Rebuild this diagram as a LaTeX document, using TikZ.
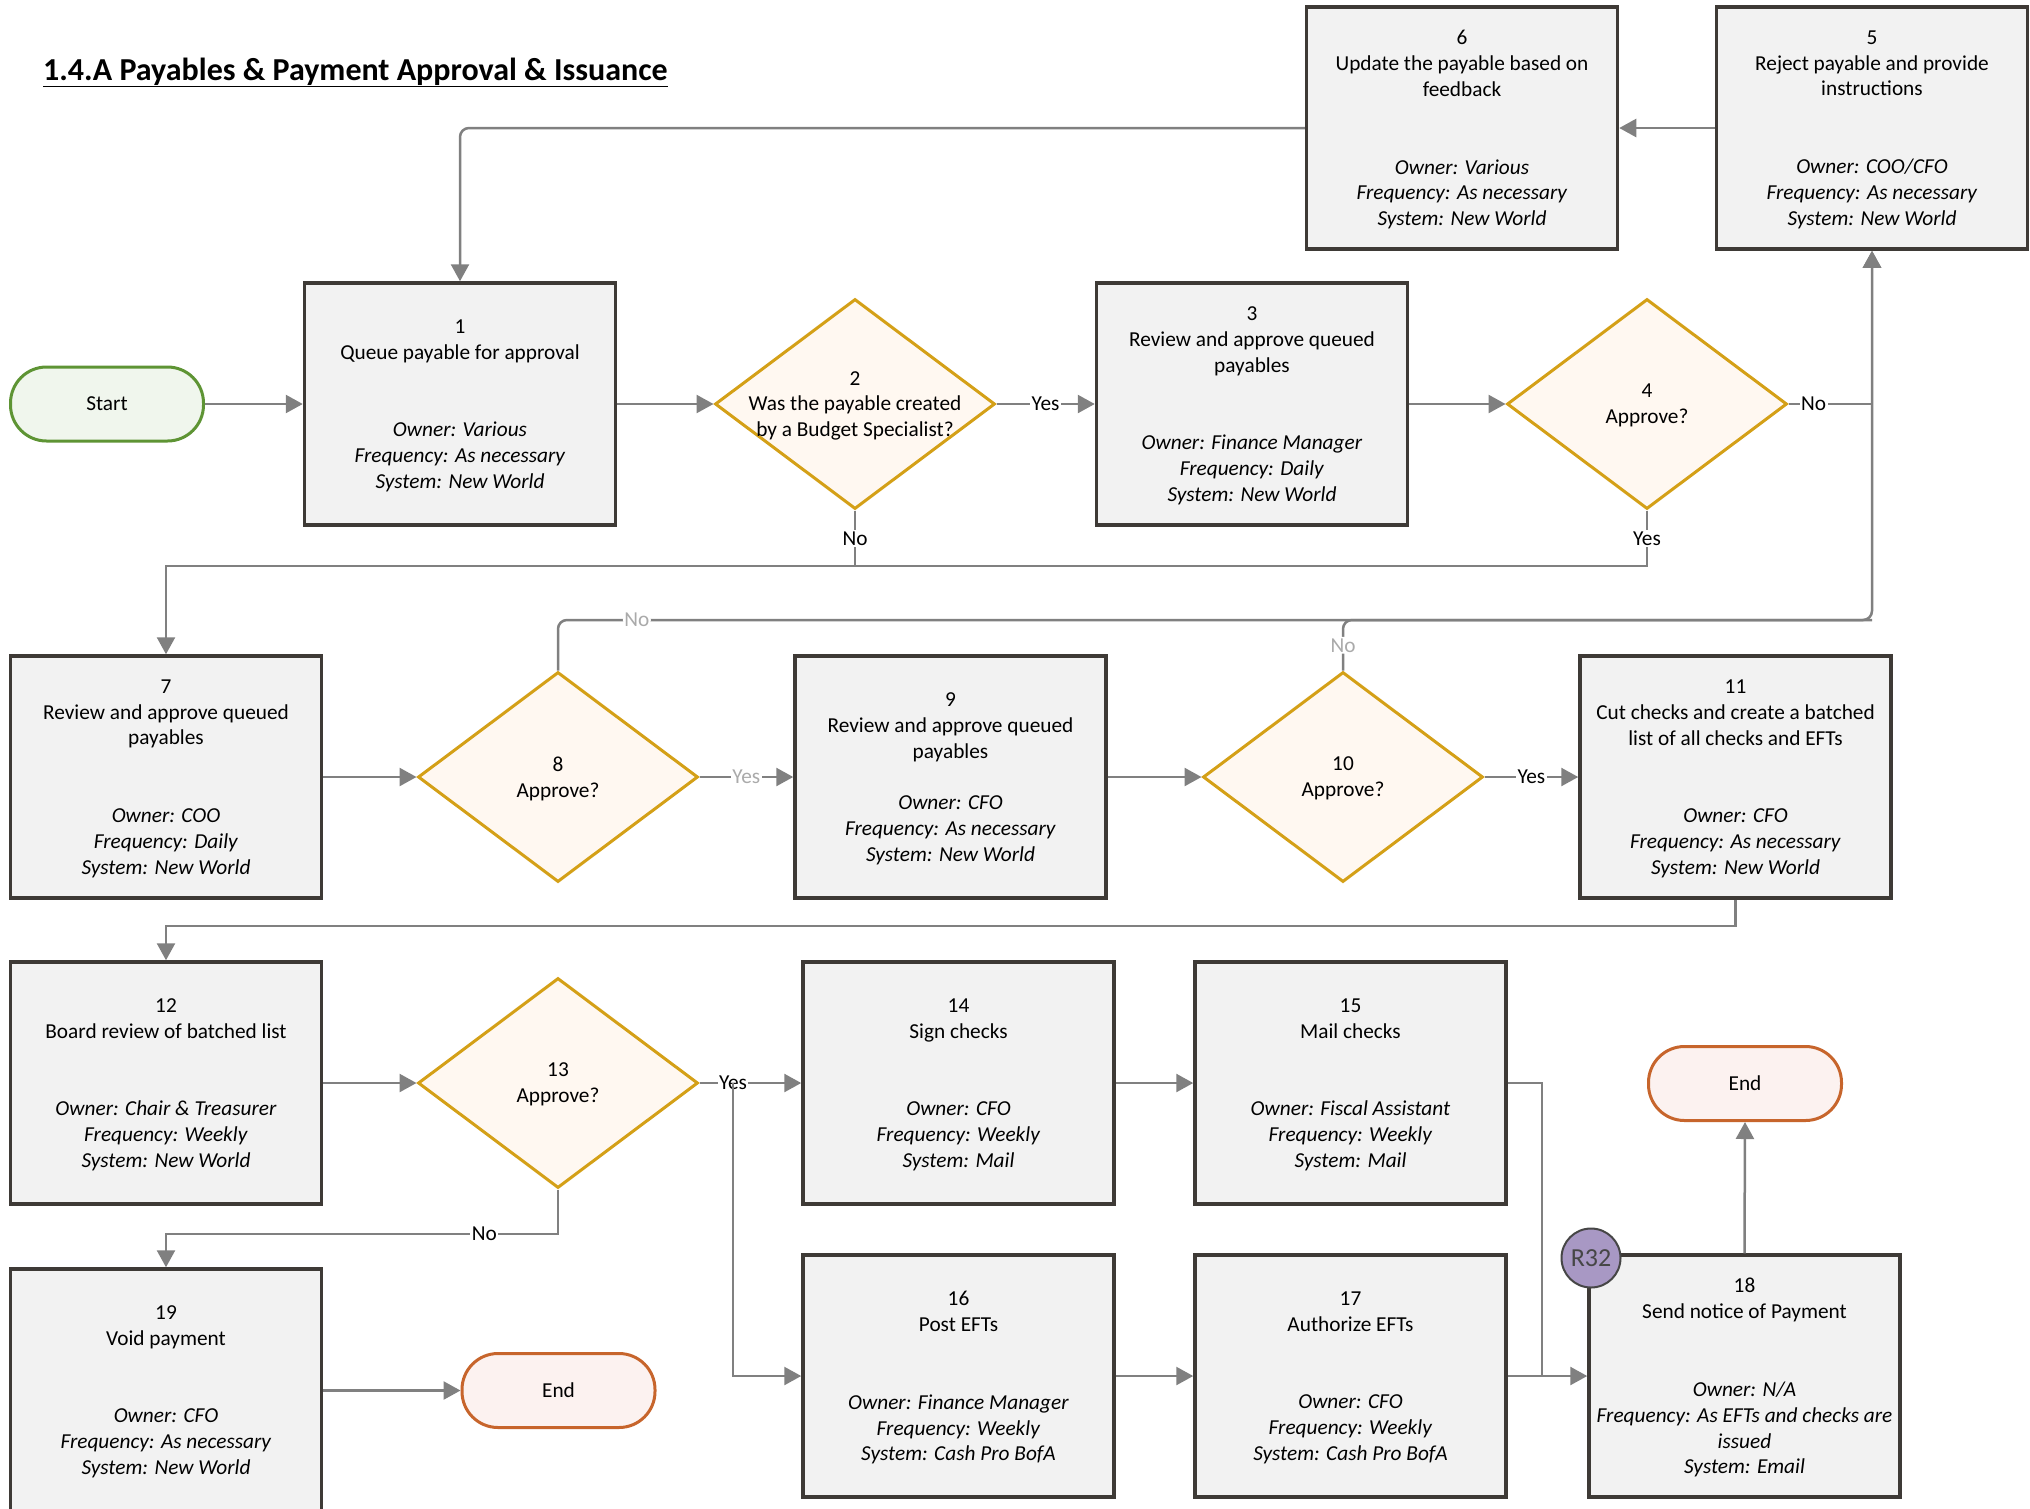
\documentclass[tikz,border=0pt]{standalone}
\usepackage{fontspec}
\setmainfont{Carlito}
\usetikzlibrary{arrows.meta,shapes.geometric}
\definecolor{boxdraw}{RGB}{62,58,54}
\definecolor{boxfill}{RGB}{242,242,242}
\definecolor{decdraw}{RGB}{212,160,23}
\definecolor{decfill}{RGB}{255,248,241}
\definecolor{startdraw}{RGB}{94,148,52}
\definecolor{startfill}{RGB}{240,246,237}
\definecolor{enddraw}{RGB}{199,101,44}
\definecolor{endfill}{RGB}{252,242,240}
\definecolor{cline}{RGB}{128,128,128}
\definecolor{lightlab}{RGB}{170,170,170}
\definecolor{rfill}{RGB}{168,152,196}
\definecolor{rdraw}{RGB}{70,70,70}
\newcommand\boxfont{\fontsize{21.3pt}{25.9pt}\selectfont}
\newcommand\attrs[3]{\textit{Owner: #1}\\\textit{Frequency: #2}\\\textit{System: #3}}
\begin{document}
\begin{tikzpicture}[x=1pt,y=-1pt,
  stepbox/.style={draw=boxdraw, fill=boxfill, line width=3.5pt, minimum width=311pt, minimum height=242pt, inner sep=0pt, align=center, font=\boxfont, text depth=0pt},
  decbox/.style={diamond, draw=decdraw, fill=decfill, line width=3pt, minimum width=280pt, minimum height=210pt, inner sep=0pt},
  dectext/.style={align=center, font=\boxfont, text depth=0pt},
  term/.style={rounded corners=36pt, minimum width=193pt, minimum height=74pt, line width=3pt, font=\boxfont},
  startterm/.style={term, draw=startdraw, fill=startfill},
  endterm/.style={term, draw=enddraw, fill=endfill},
  plainline/.style={draw=cline, line width=2.5pt},
  flow/.style={plainline, -{Triangle[length=17pt,width=18pt]}},
  lbl/.style={font=\boxfont, fill=white, inner sep=1.5pt, text=black},
  lbllight/.style={lbl, text=lightlab},
  refc/.style={circle, draw=rdraw, fill=rfill, line width=2pt, minimum size=59pt, inner sep=0pt, font=\fontsize{26pt}{30pt}\selectfont, text=rdraw}
]
\useasboundingbox (0,0) rectangle (2030,1508);
\fill[white] (0,0) rectangle (2030,1508);

\node[anchor=base west, font=\fontsize{32pt}{38pt}\selectfont\bfseries, inner sep=0pt] (title) at (43,80) {\underline{1.4.A Payables \& Payment Approval \& Issuance}};

% row 1
\node[startterm] (start) at (107,404) {Start};
\node[stepbox] (b1) at (460,404) {1\\Queue payable for approval\\[51.8pt]\attrs{Various}{As necessary}{New World}};
\node[decbox] (d2) at (855,404) {};
\node[dectext] (t2) at (d2.center) {2\\Was the payable created\\by a Budget Specialist?};
\node[stepbox] (b3) at (1252,404) {3\\Review and approve queued\\payables\\[51.8pt]\attrs{Finance Manager}{Daily}{New World}};
\node[decbox] (d4) at (1647,404) {};
\node[dectext] (t4) at (d4.center) {4\\Approve?};
\node[stepbox] (b5) at (1872,128) {5\\Reject payable and provide\\instructions\\[51.8pt]\attrs{COO/CFO}{As necessary}{New World}};
\node[stepbox] (b6) at (1462,128) {6\\Update the payable based on\\feedback\\[51.8pt]\attrs{Various}{As necessary}{New World}};

% row 2
\node[stepbox] (b7) at (166,777) {7\\Review and approve queued\\payables\\[51.8pt]\attrs{COO}{Daily}{New World}};
\node[decbox] (d8) at (558,777) {};
\node[dectext] (t8) at (d8.center) {8\\Approve?};
\node[stepbox] (b9) at (950.5,777) {9\\Review and approve queued\\payables\\[25.9pt]\attrs{CFO}{As necessary}{New World}};
\node[decbox] (d10) at (1343,777) {};
\node[dectext] (t10) at (d10.center) {10\\Approve?};
\node[stepbox] (b11) at (1735.5,777) {11\\Cut checks and create a batched\\list of all checks and EFTs\\[51.8pt]\attrs{CFO}{As necessary}{New World}};

% row 3
\node[stepbox] (b12) at (166,1083) {12\\Board review of batched list\\[51.8pt]\attrs{Chair \& Treasurer}{Weekly}{New World}};
\node[decbox] (d13) at (558,1083) {};
\node[dectext] (t13) at (d13.center) {13\\Approve?};
\node[stepbox] (b14) at (958.5,1083) {14\\Sign checks\\[51.8pt]\attrs{CFO}{Weekly}{Mail}};
\node[stepbox] (b15) at (1350.5,1083) {15\\Mail checks\\[51.8pt]\attrs{Fiscal Assistant}{Weekly}{Mail}};
\node[endterm] (end2) at (1745,1083.5) {End};

% row 4
\node[stepbox] (b19) at (166,1390) {19\\Void payment\\[51.8pt]\attrs{CFO}{As necessary}{New World}};
\node[endterm] (end1) at (558.5,1390.5) {End};
\node[stepbox] (b16) at (958.5,1376) {16\\Post EFTs\\[51.8pt]\attrs{Finance Manager}{Weekly}{Cash Pro BofA}};
\node[stepbox] (b17) at (1350.5,1376) {17\\Authorize EFTs\\[51.8pt]\attrs{CFO}{Weekly}{Cash Pro BofA}};
\node[stepbox] (b18) at (1744.5,1376) {18\\Send notice of Payment\\[51.8pt]\textit{Owner: N/A}\\\textit{Frequency: As EFTs and checks are}\\\textit{issued}\\\textit{System: Email}};

% bus coordinates
\coordinate (bus1) at (0,566);
\coordinate (bus2) at (0,926);
\coordinate (bus3) at (0,1234);
\coordinate (noj) at (1872,620);
\coordinate (ys) at (733,1083);
\coordinate (m15) at (1542,1083);

% connectors row 1
\draw[flow] (start) -- (b1);
\draw[flow] (b1) -- (d2);
\draw[flow] (d2) -- node[lbl]{Yes} (b3);
\draw[flow] (b3) -- (d4);
\draw[flow] (d4.east) -| node[lbl, pos=0.15]{No} (b5.south);
\draw[flow] (b5) -- (b6);
\draw[flow, rounded corners=9pt] (b6.west) -| (b1.north);
\draw[flow] (d2.south) -- node[lbl]{No} (d2.south |- bus1) -| (b7.north);
\draw[plainline] (d4.south) -- node[lbl]{Yes} (d4.south |- bus1) -- (d2.south |- bus1);

% row 2
\draw[flow, rounded corners=9pt] (d8.north) |- node[lbllight, pos=0.53]{No} (noj) -- (b5.south);
\draw[plainline, rounded corners=9pt] (d10.north) |- node[lbllight, pos=0.25]{No} (noj);
\draw[flow] (b7) -- (d8);
\draw[flow] (d8) -- node[lbllight]{Yes} (b9);
\draw[flow] (b9) -- (d10);
\draw[flow] (d10) -- node[lbl]{Yes} (b11);
\draw[flow] (b11.south) -- (b11.south |- bus2) -| (b12.north);

% row 3
\draw[flow] (b12) -- (d13);
\draw[flow] (d13) -- node[lbl, pos=0.33]{Yes} (b14);
\draw[flow] (ys) |- (b16.west);
\draw[flow] (b14) -- (b15);
\draw[plainline] (b15.east) -- (m15) -- (m15 |- b18.west);
\draw[flow] (d13.south) |- node[lbl, pos=0.594]{No} (b19.north |- bus3) -- (b19.north);

% row 4
\draw[flow] (b19.east |- end1.west) -- (end1.west);
\draw[flow] (b16) -- (b17);
\draw[flow] (b17) -- (b18);
\draw[flow] (b18.north) -- (end2.south);

\node[refc] (r32) at (1591,1258) {R32};
\end{tikzpicture}
\end{document}
